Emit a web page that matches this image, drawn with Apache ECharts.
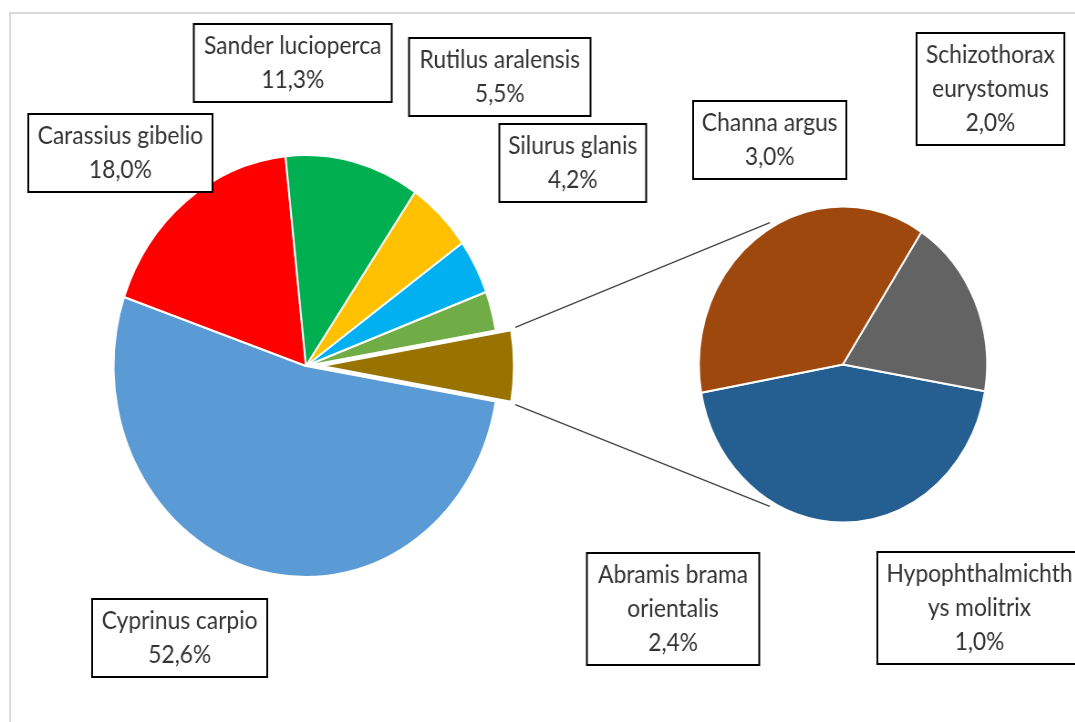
<!DOCTYPE html>
<html><head><meta charset="utf-8">
<script src="https://cdn.jsdelivr.net/npm/echarts@6/dist/echarts.min.js"></script>
<style>
html,body{margin:0;padding:0;background:#fff;overflow:hidden;width:1075px;height:722px}
#chart{width:1179px;height:722px;transform:scaleX(0.912);transform-origin:0 0}
</style>
</head><body><div id="chart"></div><script>
// ---- data ----
const mainNames = ['Cyprinus carpio', 'Carassius gibelio', 'Sander lucioperca', 'Rutilus aralensis', 'Silurus glanis', 'Channa argus'];
const mainValues = [52.6, 18.0, 11.3, 5.5, 4.2, 3.0];
const subNames = ['Abramis brama orientalis', 'Schizothorax eurystomus', 'Hypophthalmichthys molitrix'];
const subValues = [2.4, 2.0, 1.0];
const mainLabelText = ['Cyprinus carpio', 'Carassius gibelio', 'Sander lucioperca', 'Rutilus aralensis', 'Silurus glanis', 'Channa argus'];
const subLabelText = ['Abramis brama\norientalis', 'Schizothorax\neurystomus', 'Hypophthalmichth\nys molitrix'];
const otherValue = subValues.reduce((a, b) => a + b, 0);
const total = mainValues.reduce((a, b) => a + b, 0) + otherValue;

// ---- styling / layout ----
const mainColors = ['#5B9BD5', '#FF0000', '#00B050', '#FFC000', '#00B0F0', '#70AD47'];
const otherColor = '#997300';
const subColors = ['#255E91', '#9E480E', '#636363'];
const mainCenter = [335.5, 366], mainR = 211, explode = 17;
const subCenter = [924.3, 364.5], subR = 158;
const mainLabelPos = [[197, 638], [132, 153], [321, 63], [548, 77], [628, 163], [844, 140]];
const mainLabelW = [194, 204, 219, 201, 163, 170];
const subLabelPos = [[738, 609], [1086, 89], [1074, 608]];
const subLabelW = [191, 164, 226];
const halfOther = otherValue / total * 180;
const fmt = v => v.toFixed(1).replace('.', ',') + '%';

function boxLabel(text, value, w) {
  return {
    show: true,
    formatter: text + '\n' + fmt(value),
    fontFamily: 'Lato, "Open Sans", sans-serif',
    fontSize: 25,
    lineHeight: 34,
    color: '#333',
    backgroundColor: '#fff',
    borderColor: '#000',
    borderWidth: 2,
    padding: [4, 4],
    width: w - 12,
    align: 'center'
  };
}

const mainData = mainNames.map((n, i) => ({
  name: n, value: mainValues[i],
  itemStyle: { color: mainColors[i] },
  label: boxLabel(mainLabelText[i], mainValues[i], mainLabelW[i])
}));
mainData.push({ name: 'Other', value: otherValue, selected: true, itemStyle: { color: otherColor }, label: { show: false } });

const subData = subNames.map((n, i) => ({
  name: n, value: subValues[i],
  itemStyle: { color: subColors[i] },
  label: boxLabel(subLabelText[i], subValues[i], subLabelW[i])
}));

// connector lines between the exploded "other" slice and the secondary pie
const rad = d => d * Math.PI / 180;
const exC = [mainCenter[0] + explode, mainCenter[1]];
const a1 = rad(halfOther * 1.06), r1 = mainR + 5;
const a2 = rad(119.5), r2 = subR + 5;
const lines = [1, -1].map(sg => ({
  type: 'line', silent: true, z: 10,
  shape: {
    x1: exC[0] + r1 * Math.cos(a1), y1: exC[1] - sg * r1 * Math.sin(a1),
    x2: subCenter[0] + r2 * Math.cos(a2), y2: subCenter[1] - sg * r2 * Math.sin(a2)
  },
  style: { stroke: '#404040', lineWidth: 1.3 }
}));

const chart = echarts.init(document.getElementById('chart'));
chart.setOption({
  animation: false,
  backgroundColor: '#fff',
  graphic: [
    { type: 'rect', silent: true, z: -10, shape: { x: 11, y: 13, width: 1400, height: 900 }, style: { fill: 'none', stroke: '#D9D9D9', lineWidth: 2 } },
    ...lines
  ],
  series: [
    {
      type: 'pie', center: mainCenter, radius: mainR,
      startAngle: -halfOther, clockwise: true,
      selectedMode: 'single', selectedOffset: explode,
      itemStyle: { borderColor: '#fff', borderWidth: 2 },
      labelLine: { show: false },
      emphasis: { disabled: true },
      labelLayout: p => {
        const pos = mainLabelPos[p.dataIndex] || [0, 0];
        return { x: pos[0], y: pos[1], align: 'center', verticalAlign: 'middle' };
      },
      data: mainData
    },
    {
      type: 'pie', center: subCenter, radius: subR,
      startAngle: -halfOther, clockwise: true,
      itemStyle: { borderColor: '#fff', borderWidth: 2 },
      labelLine: { show: false },
      emphasis: { disabled: true },
      labelLayout: p => ({ x: subLabelPos[p.dataIndex][0], y: subLabelPos[p.dataIndex][1], align: 'center', verticalAlign: 'middle' }),
      data: subData
    }
  ]
});
</script></body></html>
